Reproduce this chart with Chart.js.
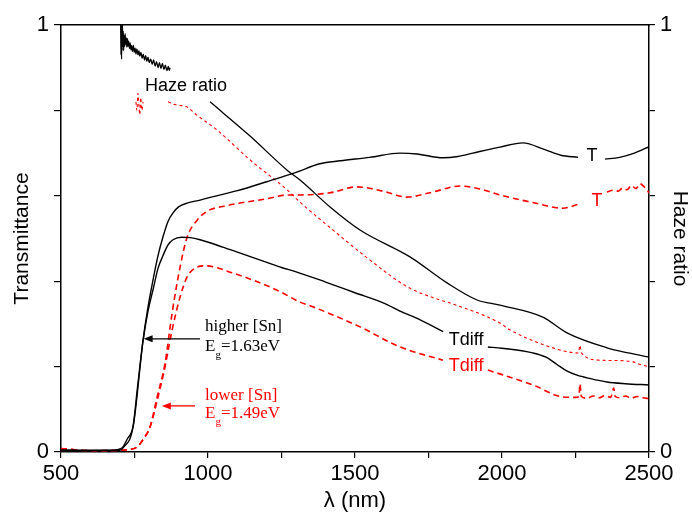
<!DOCTYPE html>
<html>
<head>
<title>Transmittance and haze ratio</title>
<script src="https://cdn.jsdelivr.net/npm/chart.js@4.4.1/dist/chart.umd.min.js"></script>
<style>
body { margin: 0; background: #ffffff; }
#box { width: 692px; height: 518px; }
</style>
</head>
<body>
<div id="box"><canvas id="chart"></canvas></div>
<script>
// wavelength (nm) / value pairs, null = gap for a label
var tHighX = [500, 600, 680, 700, 711, 725, 745, 760, 779, 796, 813, 830, 847, 864, 881, 900, 929, 973, 1000, 1100, 1200, 1300, 1380, 1450, 1550, 1653, 1711, 1799, 1850, 1901, 1993, 2071, 2146, 2200, 2259, 2265, 2350, 2400, 2450, 2500];
var tHighY = [0.005, 0.004, 0.004, 0.007, 0.012, 0.03, 0.06, 0.15, 0.262, 0.34, 0.403, 0.46, 0.504, 0.54, 0.56, 0.574, 0.583, 0.59, 0.595, 0.612, 0.633, 0.655, 0.675, 0.682, 0.69, 0.7, 0.698, 0.689, 0.692, 0.7, 0.714, 0.724, 0.708, 0.695, 0.69, null, 0.686, 0.69, 0.7, 0.715];

var tdHighX = [500, 700, 711, 745, 779, 796, 813, 830, 847, 864, 881, 910, 940, 973, 1050, 1100, 1200, 1250, 1300, 1400, 1500, 1600, 1653, 1720, 1800, 1870, 1952, 2000, 2105, 2150, 2187, 2220, 2255, 2300, 2357, 2420, 2500];
var tdHighY = [0.003, 0.004, 0.01, 0.058, 0.26, 0.33, 0.38, 0.43, 0.46, 0.485, 0.497, 0.503, 0.502, 0.497, 0.48, 0.468, 0.444, 0.432, 0.422, 0.398, 0.373, 0.348, 0.33, 0.31, 0.282, null, 0.246, 0.243, 0.232, 0.222, 0.205, 0.19, 0.18, 0.172, 0.164, 0.16, 0.157];

var tLowX = [500, 540, 600, 700, 724, 759, 780, 803, 827, 854, 878, 905, 929, 963, 1000, 1050, 1109, 1200, 1269, 1313, 1415, 1507, 1600, 1677, 1760, 1857, 1930, 1993, 2100, 2207, 2259, 2300, 2357, 2380, 2395, 2410, 2425, 2440, 2455, 2470, 2485, 2500];
var tLowY = [0.008, 0.006, 0.003, 0.004, 0.005, 0.012, 0.03, 0.059, 0.129, 0.208, 0.326, 0.433, 0.503, 0.543, 0.565, 0.575, 0.583, 0.593, 0.602, 0.602, 0.607, 0.621, 0.61, 0.597, 0.608, 0.623, 0.615, 0.602, 0.585, 0.571, 0.58, null, 0.609, 0.613, 0.611, 0.618, 0.614, 0.624, 0.617, 0.628, 0.62, 0.607];

var tdLowX = [500, 540, 600, 700, 724, 759, 780, 803, 827, 854, 878, 905, 929, 963, 990, 1085, 1235, 1313, 1357, 1517, 1653, 1799, 1870, 1952, 2105, 2207, 2250, 2262, 2265, 2270, 2290, 2310, 2330, 2350, 2370, 2380, 2385, 2400, 2420, 2440, 2460, 2480, 2500];
var tdLowY = [0.008, 0.006, 0.003, 0.004, 0.005, 0.012, 0.03, 0.059, 0.12, 0.2, 0.286, 0.363, 0.41, 0.433, 0.436, 0.419, 0.379, 0.351, 0.34, 0.293, 0.246, 0.215, null, 0.192, 0.157, 0.129, 0.128, 0.13, 0.16, 0.13, 0.126, 0.131, 0.127, 0.132, 0.128, 0.15, 0.13, 0.127, 0.131, 0.126, 0.13, 0.127, 0.125];

var hazeHighX = [703, 704, 705, 706, 707, 708, 709, 710, 712, 713, 715, 717, 718, 720, 722, 724, 726, 728, 730, 733, 735, 738, 740, 743, 746, 749, 752, 755, 758, 762, 765, 768, 772, 776, 780, 784, 788, 792, 796, 800, 805, 810, 815, 820, 825, 830, 835, 840, 845, 850, 855, 860, 865, 868, 871, 940, 1007, 1143, 1269, 1313, 1415, 1517, 1687, 1813, 1915, 1993, 2139, 2221, 2357, 2430, 2503];
var hazeHighY = [1.0, 0.93, 1.0, 0.92, 0.99, 0.94, 1.0, 0.95, 0.985, 0.94, 0.975, 0.95, 0.98, 0.955, 0.97, 0.948, 0.968, 0.95, 0.962, 0.945, 0.958, 0.942, 0.952, 0.938, 0.952, 0.936, 0.946, 0.932, 0.944, 0.93, 0.94, 0.927, 0.936, 0.922, 0.932, 0.918, 0.928, 0.915, 0.925, 0.912, 0.92, 0.908, 0.918, 0.904, 0.914, 0.9, 0.912, 0.898, 0.91, 0.896, 0.906, 0.893, 0.903, 0.894, 0.9, null, 0.82, 0.74, 0.66, 0.637, 0.574, 0.52, 0.457, 0.396, 0.356, 0.344, 0.316, 0.279, 0.244, 0.232, 0.222];

var hazeLowX = [755, 758, 762, 765, 768, 771, 775, 779, 820, 864, 880, 900, 929, 960, 1031, 1143, 1269, 1313, 1425, 1537, 1680, 1789, 1823, 1993, 2027, 2197, 2260, 2265, 2270, 2333, 2400, 2446, 2470, 2500];
var hazeLowY = [0.82, 0.8, 0.84, 0.81, 0.79, 0.83, 0.8, 0.82, null, 0.82, 0.815, 0.812, 0.808, 0.79, 0.754, 0.684, 0.614, 0.585, 0.52, 0.457, 0.386, 0.356, 0.349, 0.302, 0.286, 0.239, 0.232, 0.25, 0.232, 0.215, 0.214, 0.211, 0.205, 0.2];

var xTicks = [500, 1000, 1500, 2000, 2500];

function pts(xs, ys) {
  return xs.map(function (x, i) { return { x: x, y: ys[i] }; });
}

var sans = 'Liberation Sans, Arial, sans-serif';
var serif = 'Liberation Serif, Times New Roman, serif';

// text labels and arrows placed in data units
var notes = {
  id: 'notes',
  afterDraw: function (chart) {
    var c = chart.ctx, sx = chart.scales.x, sy = chart.scales.y;
    function X(v) { return sx.getPixelForValue(v); }
    function Y(v) { return sy.getPixelForValue(v); }
    c.save();
    c.textBaseline = 'middle';
    c.font = '18px ' + sans;
    c.fillStyle = '#000';
    c.textAlign = 'left';
    c.fillText('Haze ratio', X(786), Y(0.857));
    c.textAlign = 'center';
    c.fillText('T', X(2306), Y(0.693));
    c.fillText('Tdiff', X(1878), Y(0.262));
    c.fillStyle = '#ff0000';
    c.fillText('T', X(2323), Y(0.588));
    c.fillText('Tdiff', X(1878), Y(0.201));

    function eg(txt, x, y, col) {
      c.fillStyle = col;
      c.textAlign = 'left';
      c.font = '17px ' + serif;
      var px = X(x), py = Y(y);
      c.fillText('E', px, py);
      var w = c.measureText('E').width;
      c.font = '11px ' + serif;
      c.fillText('g', px + w, py + 9);
      var w2 = c.measureText('g').width;
      c.font = '17px ' + serif;
      c.fillText(txt, px + w + w2, py);
    }
    function arrow(x1, x2, y, col) {
      var a = X(x1), b = X(x2), py = Y(y);
      c.strokeStyle = col;
      c.fillStyle = col;
      c.lineWidth = 1.3;
      c.beginPath();
      c.moveTo(a, py);
      c.lineTo(b + 6, py);
      c.stroke();
      c.beginPath();
      c.moveTo(b, py);
      c.lineTo(b + 9, py - 3.5);
      c.lineTo(b + 9, py + 3.5);
      c.closePath();
      c.fill();
    }
    c.font = '17px ' + serif;
    c.textAlign = 'left';
    c.fillStyle = '#000';
    c.fillText('higher [Sn]', X(990), Y(0.293));
    eg('=1.63eV', 990, 0.248, '#000');
    c.fillStyle = '#ff0000';
    c.font = '17px ' + serif;
    c.fillText('lower [Sn]', X(990), Y(0.133));
    eg('=1.49eV', 990, 0.091, '#ff0000');
    arrow(973, 781, 0.265, '#000');
    arrow(956, 843, 0.108, '#ff0000');
    c.restore();
  }
};

function lineSet(xs, ys, color, width, dash, axis) {
  return {
    data: pts(xs, ys),
    borderColor: color,
    borderWidth: width,
    borderDash: dash,
    pointRadius: 0,
    fill: false,
    spanGaps: false,
    cubicInterpolationMode: 'monotone',
    yAxisID: axis
  };
}

new Chart(document.getElementById('chart'), {
  type: 'line',
  data: {
    datasets: [
      lineSet(tHighX, tHighY, '#000000', 1.4, [], 'y'),
      lineSet(tdHighX, tdHighY, '#000000', 1.4, [], 'y'),
      lineSet(hazeHighX, hazeHighY, '#000000', 1.3, [], 'y2'),
      lineSet(tLowX, tLowY, '#ff0000', 1.6, [6, 4], 'y'),
      lineSet(tdLowX, tdLowY, '#ff0000', 1.6, [6, 4], 'y'),
      lineSet(hazeLowX, hazeLowY, '#ff0000', 1.1, [3, 3], 'y2')
    ]
  },
  options: {
    responsive: true,
    maintainAspectRatio: false,
    animation: false,
    layout: { padding: { top: 25, left: 0, right: 0, bottom: 0 }, autoPadding: false },
    plugins: { legend: { display: false }, tooltip: { enabled: false } },
    scales: {
      x: {
        type: 'linear', position: 'bottom', min: 500, max: 2500,
        afterFit: function (s) { s.height = 66; },
        border: { color: '#000', width: 1.5 },
        grid: { drawOnChartArea: false, color: '#000', tickLength: 6, lineWidth: 1.2 },
        ticks: {
          stepSize: 250, color: '#000', padding: 3, maxRotation: 0, autoSkip: false,
          font: { family: sans, size: 22 },
          callback: function (v) { return xTicks.indexOf(v) >= 0 ? String(v) : ''; }
        },
        title: { display: true, text: 'λ (nm)', color: '#000', font: { family: sans, size: 22 }, padding: { top: 0, bottom: 4 } }
      },
      x2: {
        type: 'linear', position: 'top', min: 500, max: 2500,
        afterFit: function (s) { s.height = 0; },
        border: { color: '#000', width: 1.5 },
        grid: { drawOnChartArea: false, drawTicks: false },
        ticks: { display: false }
      },
      y: {
        type: 'linear', position: 'left', min: 0, max: 1,
        afterFit: function (s) { s.width = 61; },
        border: { color: '#000', width: 1.5 },
        grid: { drawOnChartArea: false, color: '#000', tickLength: 7, lineWidth: 1.2 },
        ticks: {
          stepSize: 0.2, color: '#000', padding: 5,
          font: { family: sans, size: 22 },
          callback: function (v) { return (Math.abs(v) < 1e-6 || Math.abs(v - 1) < 1e-6) ? String(Math.round(v)) : ''; }
        },
        title: { display: true, text: 'Transmittance', color: '#000', font: { family: sans, size: 21 }, padding: { top: 10, bottom: 0 } }
      },
      y2: {
        type: 'linear', position: 'right', min: 0, max: 1,
        afterFit: function (s) { s.width = 43; },
        border: { color: '#000', width: 1.5 },
        grid: { drawOnChartArea: false, color: '#000', tickLength: 6, lineWidth: 1.2 },
        ticks: {
          stepSize: 0.2, color: '#000', padding: 5,
          font: { family: sans, size: 22 },
          callback: function (v) { return (Math.abs(v) < 1e-6 || Math.abs(v - 1) < 1e-6) ? String(Math.round(v)) : ''; }
        },
        title: { display: true, text: 'Haze ratio', color: '#000', font: { family: sans, size: 21 }, padding: { top: 0, bottom: 0 } }
      }
    }
  },
  plugins: [notes]
});
</script>
</body>
</html>
